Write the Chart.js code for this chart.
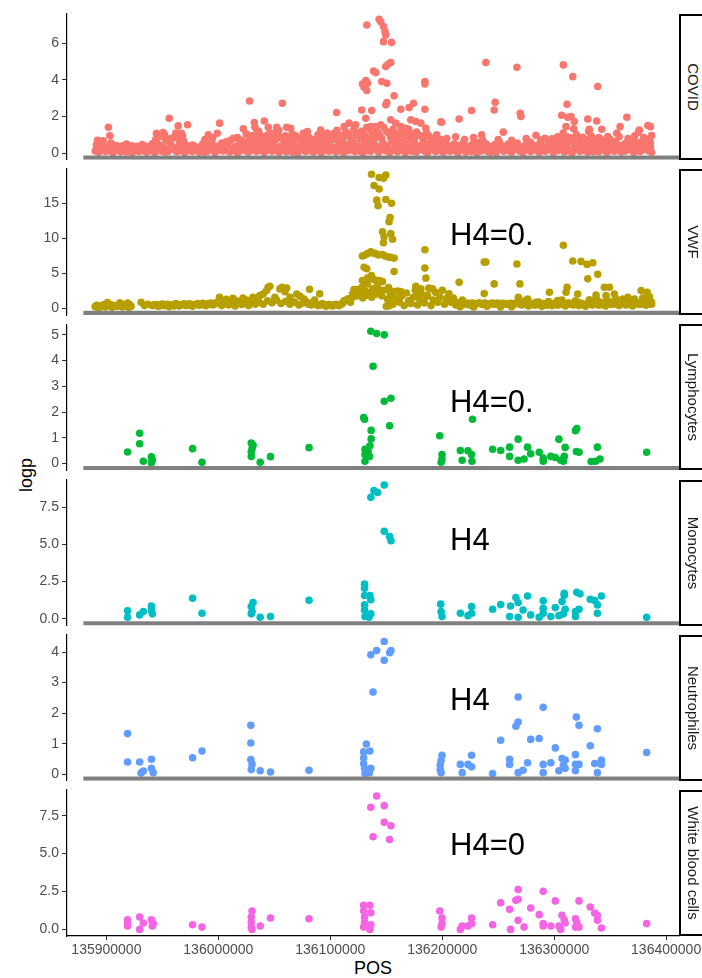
<!DOCTYPE html>
<html>
<head>
<meta charset="utf-8">
<script src="https://cdn.jsdelivr.net/npm/chart.js@4.4.0/dist/chart.umd.min.js"></script>
<style>
body { margin: 0; background: #fff; width: 702px; height: 978px; position: relative; overflow: hidden; font-family: "Liberation Sans", Arial, Helvetica, sans-serif; }
canvas { position: absolute; left: 0; z-index: 0; }
.strip { position: absolute; left: 679px; width: 40px; height: 146px; border: 2px solid #000; border-right: none; box-sizing: border-box; background: #fff; z-index: 2; }
.strip span { position: absolute; left: 12px; top: 50%; transform: translate(-50%, -50%) rotate(90deg); white-space: nowrap; font-size: 15px; color: #1a1a1a; }
.title { position: absolute; font-size: 18px; color: #000; white-space: nowrap; transform: translate(-50%, -50%); }
</style>
</head>
<body>
<div class="title" style="left:26px;top:475px;transform:translate(-50%,-50%) rotate(-90deg)">logp</div>
<div class="title" style="left:373px;top:968px">POS</div>
<script>
// positions in kb, values = logp
const covid = [
  [135890,0.12],[135893,0.05],[135896,0.22],[135899,0.1],[135903,0.28],[135906,0.04],[135909,0.17],[135913,0.08],[135916,0.25],[135919,0.13],
  [135923,0.03],[135926,0.2],[135929,0.09],[135933,0.27],[135936,0.06],[135940,0.15],[135943,0.02],[135946,0.23],[135950,0.11],[135953,0.06],
  [135956,0.19],[135960,0.3],[135963,0.08],[135966,0.14],[135970,0.04],[135973,0.21],[135977,0.1],[135980,0.26],[135983,0.05],[135987,0.16],
  [135990,0.09],[135993,0.24],[135997,0.03],[136000,0.18],[136004,0.12],[136007,0.29],[136010,0.07],[136014,0.2],[136017,0.02],[136020,0.14],
  [136024,0.25],[136027,0.06],[136031,0.17],[136034,0.1],[136037,0.28],[136041,0.04],[136044,0.19],[136048,0.11],[136051,0.23],[136054,0.05],
  [136058,0.15],[136061,0.08],[136065,0.27],[136068,0.13],[136071,0.03],[136075,0.2],[136078,0.09],[136082,0.24],[136085,0.06],[136088,0.16],
  [136092,0.02],[136095,0.22],[136099,0.11],[136102,0.3],[136105,0.07],[136109,0.18],[136112,0.04],[136116,0.13],[136119,0.26],[136122,0.09],
  [136126,0.2],[136129,0.03],[136133,0.15],[136136,0.1],[136139,0.27],[136143,0.05],[136146,0.19],[136150,0.12],[136153,0.02],[136156,0.23],
  [136160,0.08],[136163,0.17],[136167,0.04],[136170,0.28],[136173,0.11],[136177,0.06],[136180,0.21],[136184,0.14],[136187,0.03],[136190,0.25],
  [136194,0.09],[136197,0.16],[136201,0.05],[136204,0.22],[136207,0.1],[136211,0.18],[136214,0.03],[136218,0.27],[136221,0.07],[136224,0.14],
  [136228,0.2],[136231,0.04],[136235,0.12],[136238,0.24],[136241,0.08],[136245,0.17],[136248,0.02],[136252,0.29],[136255,0.1],[136258,0.15],
  [136262,0.05],[136265,0.22],[136269,0.13],[136272,0.03],[136275,0.19],[136279,0.09],[136282,0.26],[136286,0.06],[136289,0.16],[136292,0.11],
  [136296,0.21],[136299,0.04],[136303,0.14],[136306,0.28],[136309,0.07],[136313,0.18],[136316,0.02],[136320,0.23],[136323,0.1],[136326,0.15],
  [136330,0.05],[136333,0.25],[136337,0.12],[136340,0.08],[136343,0.2],[136347,0.03],[136350,0.17],[136354,0.11],[136357,0.27],[136360,0.06],
  [136364,0.14],[136367,0.22],[136371,0.04],[136374,0.19],[136377,0.09],[136381,0.24],[136384,0.13],[136387,0.05],
  [135891.5,0.3],[135895,0.15],[135898,0.4],[135901,0.2],[135904.5,0.08],[135908,0.33],[135911,0.18],[135914.5,0.4],[135918,0.07],[135921,0.32],
  [135924.5,0.16],[135928,0.38],[135931,0.21],[135934.5,0.1],[135938,0.35],[135941.5,0.28],[135945,0.12],[135948,0.4],[135951.5,0.3],[135955,0.09],
  [135958,0.42],[135961.5,0.16],[135965,0.33],[135968,0.22],[135971.5,0.4],[135975,0.13],[135978,0.36],[135981.5,0.2],[135985,0.3],[135988,0.06],
  [135991.5,0.37],[135995,0.19],[135998,0.31],[136002,0.4],[136005,0.15],[136008.5,0.38],[136012,0.24],[136015.5,0.12],[136019,0.4],[136022,0.3],
  [136025.5,0.1],[136029,0.36],[136032,0.22],[136035.5,0.42],[136039,0.14],[136042,0.34],[136046,0.26],[136049,0.4],[136053,0.16],[136056,0.33],
  [136060,0.21],[136063,0.41],[136066.5,0.07],[136070,0.3],[136073,0.18],[136076.5,0.4],[136080,0.28],[136083.5,0.12],[136087,0.38],[136090,0.2],
  [136093.5,0.33],[136097,0.15],[136100,0.4],[136103.5,0.22],[136107,0.35],[136110,0.12],[136113.5,0.3],[136117,0.42],[136120,0.17],[136124,0.36],
  [136127,0.1],[136131,0.3],[136134,0.4],[136137.5,0.2],[136141,0.38],[136144,0.13],[136148,0.3],[136151,0.42],[136154.5,0.16],[136158,0.35],
  [136161,0.22],[136165,0.4],[136168,0.14],[136172,0.33],[136175,0.41],[136178.5,0.2],[136182,0.36],[136185,0.09],[136189,0.3],[136192,0.4],
  [136195.5,0.24],[136199,0.12],[136202,0.36],[136206,0.28],[136209,0.4],[136212.5,0.12],[136216,0.33],[136219,0.2],[136223,0.38],[136226,0.1],
  [136229.5,0.3],[136233,0.4],[136236,0.18],[136240,0.35],[136243,0.06],[136246.5,0.3],[136250,0.4],[136253,0.2],[136257,0.34],[136260,0.12],
  [136263.5,0.38],[136267,0.28],[136270,0.1],[136274,0.34],[136277,0.4],[136280.5,0.18],[136284,0.32],[136287,0.07],[136291,0.36],[136294,0.25],
  [136297.5,0.4],[136301,0.16],[136304,0.33],[136308,0.2],[136311,0.4],[136314.5,0.1],[136318,0.35],[136321,0.28],[136325,0.4],[136328,0.17],
  [136331.5,0.33],[136335,0.08],[136338,0.38],[136342,0.28],[136345,0.4],[136348.5,0.14],[136352,0.35],[136355,0.2],[136359,0.4],[136362,0.11],
  [136365.5,0.36],[136369,0.25],[136372,0.4],[136376,0.15],[136379,0.32],[136382.5,0.2],[136386,0.36],
  [135891,0.45],[135895,0.62],[135900,0.38],[135904,0.55],[135909,0.42],[135914,0.35],[135918,0.5],[135923,0.4],[135927,0.33],[135932,0.47],
  [135936,0.36],[135941,0.52],[135945,0.6],[135949,0.41],[135953,0.72],[135957,0.55],[135961,0.85],[135965,0.48],[135969,0.66],[135973,0.38],
  [135977,0.45],[135981,0.34],[135986,0.5],[135990,0.42],[135994,0.62],[135998,0.38],[136003,0.55],[136007,0.46],[136011,0.7],[136015,0.35],
  [136019,0.58],[136023,0.44],[136027,0.65],[136031,0.5],[136035,0.78],[136039,0.4],[136043,0.6],[136047,0.48],[136051,0.72],[136055,0.36],
  [136059,0.55],[136063,0.45],[136067,0.63],[136071,0.38],[136075,0.52],[136079,0.68],[136083,0.42],[136087,0.57],[136091,0.35],[136095,0.62],
  [136099,0.47],[136103,0.75],[136107,0.4],[136111,0.58],[136115,0.45],[136119,0.7],[136123,0.52],[136127,0.38],[136131,0.65],[136135,0.48],
  [136139,0.6],[136143,0.35],[136147,0.55],[136151,0.42],[136155,0.68],[136159,0.5],[136163,0.37],[136167,0.62],[136171,0.45],[136175,0.58],
  [136179,0.4],[136183,0.66],[136187,0.5],[136191,0.36],[136195,0.55],[136199,0.45],[136203,0.62],[136207,0.38],[136211,0.52],[136215,0.42],
  [136219,0.6],[136223,0.35],[136227,0.48],[136231,0.58],[136235,0.4],[136239,0.52],[136243,0.36],[136247,0.47],[136251,0.6],[136255,0.38],
  [136259,0.5],[136263,0.42],[136267,0.56],[136271,0.35],[136275,0.48],[136279,0.6],[136283,0.4],[136287,0.52],[136291,0.37],[136295,0.55],
  [136299,0.44],[136303,0.62],[136307,0.38],[136311,0.5],[136315,0.66],[136319,0.42],[136323,0.55],[136327,0.36],[136331,0.6],[136335,0.47],
  [136339,0.7],[136343,0.4],[136347,0.56],[136351,0.45],[136355,0.64],[136359,0.38],[136363,0.52],[136367,0.6],[136371,0.42],[136375,0.55],
  [136379,0.68],[136383,0.4],[136386,0.58],
  [135892,0.7],[135897,0.68],[135944,0.75],[135947,0.9],[135952,1.0],[135955,0.75],[135958,0.82],[135962,1.1],[135965,0.8],[135968,0.95],
  [135988,0.75],[135995,0.85],
  [136017,0.85],[136021,0.7],[136025,1.05],[136028,0.8],[136030,0.95],[136033,1.0],[136036,1.2],[136038,0.72],[136040,0.9],[136043,0.95],
  [136046,1.1],[136048,0.75],[136050,0.88],[136052,1.0],[136054,1.25],[136057,0.8],[136060,0.95],[136063,0.75],[136066,1.05],[136069,0.95],
  [136072,0.8],[136075,0.75],[136078,0.9],[136081,0.85],[136084,0.75],[136086,0.7],[136089,1.0],
  [136091,0.7],[136093,0.85],[136095,0.95],[136097,1.1],[136099,0.75],[136101,0.9],[136104,1.05],[136106,1.25],[136108,0.7],[136110,0.95],
  [136112,0.9],[136114,1.15],[136116,1.05],[136118,0.85],[136120,0.75],[136121,1.3],[136123,1.1],[136125,1.0],[136127,0.8],[136128,1.2],
  [136130,1.05],[136132,0.9],[136134,0.75],[136135,1.35],[136137,1.2],[136138,1.05],[136140,0.85],[136141,1.25],[136143,1.1],[136144,0.95],
  [136146,0.8],[136148,1.4],[136150,1.2],[136152,1.1],[136154,0.85],[136156,1.3],[136157,1.1],[136159,0.9],[136161,0.75],[136163,1.2],
  [136164,1.05],[136166,1.0],[136168,0.8],[136170,1.3],[136171,1.1],[136173,0.85],[136175,0.75],[136177,1.15],[136179,1.0],[136181,0.95],
  [136183,0.8],[136186,1.1],[136188,0.95],[136190,0.8],[136193,0.7],[136195,1.0],[136199,0.75],
  [136204,0.8],[136212,0.9],[136220,0.75],[136228,0.85],[136236,0.7],[136250,0.75],[136262,0.7],[136275,0.8],[136288,0.72],[136298,0.78],
  [136301,0.75],[136303,0.9],[136306,0.7],[136308,1.1],[136311,0.8],[136314,0.85],[136317,0.72],[136320,1.0],[136323,0.8],[136326,0.8],
  [136329,0.7],[136333,0.95],[136336,0.75],[136340,0.85],[136343,0.7],
  [136350,0.75],[136358,0.9],[136366,0.8],[136372,0.95],[136380,0.85],[136385,0.78],
  [135901.8,1.42],[135903,0.95],[135956.1,1.91],[135944.7,1.09],[135950.7,1.13],[135964.1,1.49],[135972.5,1.55],[135967.1,1.09],[135967.1,0.85],
  [135991,1.0],[135999,1.09],[136001.1,1.64],[136022.3,1.33],[136027.9,2.85],[136032.1,1.67],[136032.7,1.42],[136041.1,1.76],[136044.6,1.42],
  [136052.1,1.42],[136057.2,2.73],[136061,1.42],[136064.6,1.36],[136070,0.82],[136075.9,1.09],[136037.1,1.0],[136049.1,1.09],[136055,0.91],
  [136028.8,0.64],[136013.3,0.82],[136007.3,0.64],
  [136143.6,7.31],[136145.1,7.18],[136132.6,7.0],[136147.5,6.91],[136148.9,6.64],[136149.6,6.45],[136147.5,6.09],[136154.7,6.05],
  [136154,4.95],[136151.6,4.85],[136149.6,4.73],[136138.6,4.49],[136140.6,4.4],[136131.7,3.96],[136128.7,3.78],[136133.2,3.82],[136130.2,3.6],
  [136132.6,3.42],[136146,3.91],[136150.5,3.82],[136184.5,3.91],[136184.5,3.78],[136157,3.13],[136150.5,2.76],[136149.6,2.64],[136163,2.4],
  [136170.4,2.49],[136174.3,2.73],[136184.5,2.4],[136128.1,2.36],[136137,2.33],[136105.7,2.22],[136131.7,1.91],[136132.6,1.42],[136198.8,1.71],
  [136091.4,1.27],[136112.3,1.45],[136116.7,1.64],[136122.7,1.55],[136154,1.82],[136158.5,1.64],[136171.9,1.82],[136176.4,1.73],[136180.9,1.64],
  [136185.4,1.36],[136145.1,1.55],[136140.6,1.45],[136136.2,1.45],[136079.5,1.18],[136103.3,1.09],[136163,1.45],[136167.5,1.36],
  [136239,4.95],[136266.7,4.69],[136308.2,4.82],[136316.6,4.18],[136338.9,3.64],[136247.3,2.78],[136246.4,2.36],[136226.2,2.33],[136215.1,1.87],
  [136199.4,1.69],[136269.7,2.18],[136270.3,2.0],[136311.5,2.67],[136306.7,2.07],[136312.1,1.96],[136315,2.0],[136318,1.73],[136310.6,1.45],
  [136317.5,1.33],[136330,1.87],[136338,1.76],[136331.4,1.31],[136330.9,1.18],[136342.5,1.31],[136364.9,1.96],[136358.9,1.45],[136376.1,1.27],
  [136375.3,1.15],[136383.7,1.51],[136386,1.45],[136387,0.96],[136254.5,1.15],[136235.2,1.0],[136283.7,0.98],[136291.8,0.82],[136310.6,0.91],
  [136325.5,0.87],[136355.9,1.09],[136371.1,0.82],[136347.9,0.91]
];

const vwf = [
  [135890,0.25],[135893,0.1],[135896,0.35],[135899,0.2],[135901,0.85],[135902,0.45],[135905,0.15],[135908,0.3],[135911,0.5],[135912,0.8],
  [135914,0.22],[135917,0.38],[135919,0.75],[135920,0.12],[135922,0.3],[135931,0.87],[135934,0.4],[135937,0.6],
  [135891.5,0.45],[135894.5,0.3],[135897.5,0.5],[135900.5,0.35],[135903.5,0.55],[135906.5,0.4],[135909.5,0.3],[135912.5,0.45],[135915.5,0.55],
  [135918.5,0.35],[135921,0.5],
  [135941,0.4],[135944,0.55],[135947,0.3],[135950,0.62],[135953,0.45],[135956,0.25],[135959,0.5],[135962,0.7],[135965,0.35],[135968,0.55],
  [135971,0.42],[135974,0.65],[135977,0.3],[135980,0.58],[135983,0.45],[135986,0.72],[135989,0.38],[135992,0.6],[135995,0.5],[135998,0.8],
  [135942.5,0.5],[135945.5,0.35],[135948.5,0.55],[135951.5,0.4],[135954.5,0.6],[135957.5,0.45],[135960.5,0.35],[135963.5,0.55],[135966.5,0.5],
  [135969.5,0.65],[135972.5,0.45],[135975.5,0.55],[135978.5,0.5],[135981.5,0.7],[135984.5,0.55],[135987.5,0.5],[135990.5,0.65],[135993.5,0.75],
  [135996.5,0.6],[135999.5,0.9],
  [136001,1.6],[136004,1.0],[136007,1.3],[136010,0.9],[136013,1.45],[136016,1.1],[136019,0.95],[136022,1.5],[136025,1.2],[136028,1.0],[136031,1.35],
  [136003,0.4],[136009,0.5],[136015,0.35],[136021,0.55],[136027,0.4],[136033,0.6],
  [136031,1.6],[136037,1.83],[136040,2.07],[136043,2.55],[136044.5,3.03],[136046,3.17],[136050.5,1.6],[136055,2.79],[136057,3.03],[136061,2.93],
  [136059.5,2.4],[136064,1.6],[136070,2.07],[136073,1.73],[136076.5,1.35],
  [136036,0.9],[136040,0.6],[136044,1.1],[136048,0.8],[136052,1.2],[136056,0.7],[136060,1.0],[136064,0.6],[136068,0.9],[136072,0.5],[136076,0.8],
  [136081.5,2.75],[136090.5,2.1],
  [136079,0.9],[136083,0.5],[136086,1.2],[136089,0.4],[136093,0.7],[136096,0.3],[136099,0.55],[136102,0.35],[136105,0.6],[136108,0.4],
  [136111,0.75],[136113,1.1],[136116,1.35],[136118,0.9],[136121,2.07],[136123,2.69],[136120,1.6],
  [136080.5,0.6],[136084.5,0.8],[136087.5,0.55],[136091,0.5],[136094.5,0.45],[136097.5,0.5],[136100.5,0.45],[136103.5,0.5],[136106.5,0.45],
  [136109.5,0.55],
  [136136.8,19.2],[136143.6,18.75],[136149.6,19.1],[136147.5,18.65],[136139.1,17.6],[136143.6,17.1],[136141.5,15.5],[136142.7,14.7],
  [136149.6,15.6],[136154.7,15.05],[136153.4,13.0],[136152.5,12.4],[136146.6,10.96],[136148,10.24],[136154,10.7],[136155.6,9.9],[136147.5,9.4],
  [136184.5,8.4],[136128.7,7.5],[136133.2,7.84],[136136.2,8.1],[136140.6,7.84],[136146.6,7.7],[136151.6,7.36],[136157,7.2],
  [136130.5,7.6],[136138,7.95],[136143,7.65],[136149,7.5],[136154,7.3],
  [136130.2,5.9],[136132.6,5.67],[136157,5.29],[136184.5,5.77],[136185.4,4.33],[136128.7,3.99],[136133.2,4.33],[136136.8,4.71],[136141.5,3.99],
  [136146.6,3.85],[136135,4.4],[136139,4.1],[136144,4.0],
  [136128,3.0],[136133,3.5],[136138,2.8],[136142,3.2],[136147,2.6],[136152,3.0],[136156,2.4],
  [136141.5,2.4],[136131.7,2.21],[136121.2,2.69],[136119.8,2.07],[136115.3,1.35],[136112.3,1.1],[136152.5,2.55],[136163,2.4],[136176.4,3.17],
  [136180.9,2.79],[136191.3,2.79],[136177.9,2.07],[136186.9,1.83],[136152.5,0.38],[136151.1,1.35],
  [136124,1.8],[136127,2.2],[136129,1.5],[136131,2.5],[136133,1.9],[136135,2.3],[136137,1.6],[136140,2.0],[136143,2.4],[136146,1.8],
  [136150,0.3],[136152,1.2],[136154,2.0],[136156,0.6],[136158,1.5],[136160,2.5],[136162,0.9],[136164,1.8],[136166,0.4],[136168,2.2],
  [136170,1.1],[136172,0.7],[136174,1.6],[136176,2.6],[136178,0.5],[136180,1.3],[136182,2.0],[136184,0.8],[136186,1.7],[136188,2.9],
  [136190,0.4],[136192,1.2],[136194,2.3],[136196,0.9],[136198,1.6],[136200,2.6],[136202,0.6],[136204,1.4],[136206,2.1],[136208,0.9],
  [136210,1.5],[136212,0.5],
  [136212,0.9],[136215,0.6],[136218,1.2],[136221,0.7],[136224,0.5],[136227,0.75],[136230,0.62],[136233,0.8],[136236,0.55],[136239,0.7],
  [136242,0.6],[136245,0.75],[136248,0.65],[136251,0.58],[136254,0.72],[136257,0.6],[136260,0.68],[136263,0.55],[136266,0.75],
  [136216,0.25],[136228,0.2],[136240,0.3],[136252,0.2],[136262,0.25],
  [136213.5,0.7],[136216.5,0.75],[136219.5,0.6],[136222.5,0.75],[136225.5,0.65],[136228.5,0.6],[136231.5,0.7],[136234.5,0.65],[136237.5,0.75],
  [136240.5,0.6],[136243.5,0.7],[136246.5,0.6],[136249.5,0.75],[136252.5,0.65],[136255.5,0.7],[136258.5,0.6],[136261.5,0.72],[136264.5,0.62],
  [136267.5,0.7],
  [136268,0.9],[136271,0.5],[136274,1.1],[136277,0.35],[136280,0.7],[136283,0.45],[136286,0.9],[136289,0.3],[136292,0.6],[136295,1.0],
  [136298,0.4],[136301,0.75],[136304,0.5],[136307,1.2],[136310,0.35],[136313,0.8],[136316,0.55],[136319,1.1],[136322,0.4],[136325,0.7],
  [136328,0.3],[136331,0.9],[136334,0.5],[136337,1.3],[136340,0.45],[136343,0.8],[136346,0.35],[136349,1.0],[136352,0.6],[136355,1.4],
  [136358,0.4],[136361,0.85],[136364,0.5],[136367,1.2],[136370,0.35],[136373,0.9],[136376,0.6],[136379,1.5],[136382,0.45],[136385,0.95],[136387,0.6],
  [136269.5,0.6],[136272.5,0.75],[136275.5,0.55],[136278.5,0.5],[136281.5,0.65],[136284.5,0.6],[136287.5,0.5],[136290.5,0.7],[136293.5,0.45],
  [136296.5,0.6],[136299.5,0.65],[136302.5,0.5],[136305.5,0.7],[136308.5,0.6],[136311.5,0.55],[136314.5,0.65],[136317.5,0.5],[136320.5,0.6],
  [136323.5,0.75],[136326.5,0.5],[136329.5,0.6],[136332.5,0.7],[136335.5,0.55],[136338.5,0.6],[136341.5,0.75],[136344.5,0.5],[136347.5,0.65],
  [136350.5,0.6],[136353.5,0.8],[136356.5,0.55],[136359.5,0.65],[136362.5,0.7],[136365.5,0.6],[136368.5,0.75],[136371.5,0.55],[136374.5,0.7],
  [136377.5,0.6],[136380.5,0.8],[136383.5,0.6],[136386,0.7],
  [136308.2,9.04],[136316.6,6.78],[136324,6.73],[136329.4,6.3],[136334.5,6.54],[136237.5,6.63],[136239,6.63],[136266.7,6.35],[136330,4.23],
  [136338.9,4.9],[136215.1,3.75],[136246.4,3.51],[136269.4,3.51],[136237.5,2.12],[136268,1.59],[136295.7,2.31],[136311.5,3.03],[136310.6,2.31],
  [136321,2.07],[136331.4,1.25],[136337.4,1.92],[136344.8,3.03],[136349.3,3.03],[136346.3,1.83],[136353.7,2.07],[136347.2,1.11],[136377.7,2.55],
  [136383,2.31],[136385.1,1.68],[136387,0.87],[136380.4,1.35],[136361.3,1.35],[136365.8,1.59],[136371.7,1.35],[136276.3,1.35],[136283.7,0.87],
  [136303.1,1.11],[136321,0.87],[136338.9,1.11]
];

const lymphocytes = [
  [135918.9,0.45],[135929.7,1.18],[135929.7,0.77],[135933.0,0.09],[135940.2,0.26],[135941.0,0.14],[135940.2,0.03],[135977.0,0.58],[135985.4,0.05],
  [136029.4,0.46],[136029.4,0.8],[136031.0,0.71],[136029.4,0.28],[136030.1,0.58],[136037.4,0.05],[136046.6,0.27],[136081.0,0.62],[136129.8,1.79],
  [136130.6,1.72],[136136.2,5.14],[136141.4,5.05],[136148.2,5.0],[136138.2,3.78],[136148.2,2.42],[136154.2,2.54],[136153.0,1.47],[136136.5,1.29],
  [136136.5,0.96],[136135.4,0.69],[136131.0,0.56],[136131.0,0.35],[136131.0,0.09],[136135.0,0.28],[136133.7,0.47],[136197.8,1.08],[136199.8,0.35],
  [136199.8,0.18],[136199.0,0.05],[136216.2,0.51],[136217.8,0.13],[136223.0,0.5],[136226.2,0.35],[136226.6,0.09],[136227.0,1.72],[136245.0,0.56],
  [136252.2,0.51],[136260.2,0.64],[136260.2,0.28],[136267.8,0.95],[136267.8,0.13],[136273.1,0.18],[136276.2,0.64],[136279.0,0.38],[136286.6,0.44],
  [136290.2,0.09],[136290.2,0.22],[136297.0,0.28],[136301.0,0.24],[136304.2,0.95],[136305.8,0.13],[136309.0,0.28],[136308.2,0.09],[136309.8,0.63],
  [136319.0,1.28],[136320.2,1.36],[136319.8,0.47],[136322.2,0.44],[136333.0,0.08],[136337.0,0.09],[136340.9,0.18],[136338.6,0.64],[136382.6,0.44]
];

const monocytes = [
  [135918.9,0.54],[135918.9,0.11],[135929.7,0.27],[135933.0,0.49],[135940.2,0.87],[135941.0,0.34],[135940.2,0.6],[135977.0,1.39],[135985.4,0.38],
  [136030.1,0.49],[136031.0,1.1],[136029.4,0.83],[136029.4,0.34],[136037.4,0.11],[136046.6,0.16],[136081.0,1.25],[136136.2,8.15],[136139.0,8.6],
  [136142.2,8.48],[136148.2,8.98],[136148.2,5.87],[136153.0,5.53],[136154.2,5.24],[136130.6,2.33],[136130.6,2.06],[136130.6,1.57],[136135.4,1.57],
  [136136.2,1.28],[136130.6,0.94],[136130.6,0.6],[136131.0,0.16],[136136.2,0.34],[136134.6,0.11],[136198.6,0.99],[136199.0,0.49],[136199.8,0.16],
  [136216.2,0.38],[136223.0,0.22],[136226.2,0.83],[136226.2,0.38],[136245.0,0.65],[136252.2,0.96],[136260.2,0.16],[136261.0,0.87],[136265.8,1.43],
  [136267.8,1.1],[136267.8,0.11],[136272.2,0.6],[136276.2,1.54],[136279.0,0.27],[136286.6,0.11],[136290.2,1.21],[136290.2,0.72],[136290.2,0.38],
  [136297.0,0.16],[136301.0,0.76],[136304.2,0.22],[136307.0,1.16],[136309.0,1.59],[136309.0,1.72],[136309.8,0.65],[136308.2,0.34],[136319.0,0.49],
  [136319.0,0.16],[136320.2,1.79],[136323.0,1.68],[136322.2,0.65],[136332.2,1.32],[136336.2,1.23],[136338.6,0.94],[136342.2,1.54],[136338.6,0.38],
  [136382.6,0.11]
];

const neutrophiles = [
  [135918.9,1.33],[135918.9,0.4],[135929.7,0.4],[135930.9,0.04],[135933.0,0.1],[135940.2,0.49],[135940.2,0.19],[135941.8,0.05],[135977.0,0.54],
  [135985.4,0.76],[136029.0,1.6],[136029.0,1.02],[136029.0,0.48],[136030.1,0.32],[136029.4,0.15],[136037.4,0.11],[136046.6,0.07],[136081.0,0.13],
  [136132.2,0.99],[136129.8,0.73],[136135.4,0.76],[136129.8,0.53],[136129.8,0.35],[136130.6,0.19],[136131.0,0.02],[136136.2,0.19],[136135.0,0.05],
  [136136.2,3.91],[136141.4,4.05],[136148.2,4.35],[136148.2,3.73],[136153.0,3.98],[136154.2,4.05],[136138.2,2.69],[136199.8,0.62],[136199.0,0.45],
  [136198.2,0.3],[136198.2,0.15],[136199.0,0.05],[136216.2,0.32],[136217.8,0.05],[136223.0,0.32],[136226.2,0.62],[136226.2,0.24],[136245.0,0.02],
  [136252.2,1.11],[136260.2,0.49],[136260.2,0.32],[136265.8,1.57],[136267.8,1.71],[136267.8,2.53],[136267.8,0.05],[136272.2,0.13],[136276.2,0.37],
  [136279.0,1.14],[136286.6,1.17],[136290.2,2.19],[136290.2,0.32],[136290.2,0.05],[136297.0,0.37],[136301.0,0.86],[136304.2,0.11],[136307.0,0.51],
  [136308.2,0.29],[136309.8,0.19],[136309.8,0.46],[136319.0,0.64],[136319.0,0.32],[136319.8,1.87],[136322.2,1.6],[136319.0,0.11],[136322.2,0.32],
  [136332.2,0.93],[136336.2,0.35],[136338.6,1.49],[136338.6,0.05],[136342.2,0.46],[136342.2,0.32],[136382.6,0.71]
];

const whiteBloodCells = [
  [135918.9,0.64],[135918.9,0.22],[135918.9,0.42],[135929.7,0.82],[135929.7,0.0],[135933.0,0.42],[135940.2,0.64],[135941.0,0.22],[135941.8,0.38],
  [135977.0,0.31],[135985.4,0.15],[136030.1,1.21],[136029.4,0.82],[136029.4,0.49],[136029.4,0.15],[136030.1,0.0],[136037.4,0.22],[136046.6,0.75],
  [136081.0,0.7],[136129.8,1.59],[136135.4,1.59],[136136.2,1.1],[136129.8,1.21],[136130.6,0.82],[136130.6,0.49],[136129.8,0.15],[136136.2,0.31],
  [136135.4,0.0],[136136.2,8.05],[136141.4,8.8],[136148.2,8.16],[136148.2,7.06],[136154.2,6.84],[136138.2,6.11],[136153.0,5.93],[136197.8,1.21],
  [136199.8,0.75],[136199.8,0.38],[136199.0,0.15],[136216.2,0.0],[136217.8,0.22],[136223.0,0.22],[136226.2,0.75],[136226.2,0.38],[136245.0,0.31],
  [136252.2,1.76],[136260.2,1.32],[136261.0,0.0],[136265.8,1.92],[136267.8,2.63],[136267.8,1.99],[136267.8,0.6],[136273.1,0.15],[136279.0,1.41],
  [136286.6,0.97],[136290.2,2.51],[136290.2,0.22],[136290.2,0.38],[136297.0,0.22],[136301.0,1.88],[136305.8,0.0],[136307.0,0.93],[136309.0,0.64],
  [136309.8,0.42],[136304.2,0.22],[136319.0,0.7],[136319.0,0.15],[136320.2,0.49],[136322.2,1.88],[136322.2,0.15],[136332.2,1.48],[136336.2,1.08],
  [136338.6,0.93],[136338.6,0.6],[136342.2,0.09],[136382.6,0.38]
];

const traits = ['COVID', 'VWF', 'Lymphocytes', 'Monocytes', 'Neutrophiles', 'White blood cells'];
const series = [covid, vwf, lymphocytes, monocytes, neutrophiles, whiteBloodCells];
const colors = ['#F8766D', '#B79F00', '#00BA38', '#00BFC4', '#619CFF', '#F564E3'];
const yMins = [-0.36, -0.95, -0.26, -0.445, -0.2175, -0.44];
const yMaxs = [7.61, 19.95, 5.41, 9.345, 4.5675, 9.19];
const yTicks = [[0, 2, 4, 6], [0, 5, 10, 15], [0, 1, 2, 3, 4, 5], [0, 2.5, 5, 7.5], [0, 1, 2, 3, 4], [0, 2.5, 5, 7.5]];
const yTickLabels = [['0', '2', '4', '6'], ['0', '5', '10', '15'], ['0', '1', '2', '3', '4', '5'],
  ['0.0', '2.5', '5.0', '7.5'], ['0', '1', '2', '3', '4'], ['0.0', '2.5', '5.0', '7.5']];
const xTicks = [135900000, 136000000, 136100000, 136200000, 136300000, 136400000];
const xTickLabels = ['135900000', '136000000', '136100000', '136200000', '136300000', '136400000'];
const grayLineY = [-0.24, -0.635, -0.175, -0.297, -0.145, null];
const grayLineX = [135879.4, 136430];
const annotText = ['', 'H4=0.', 'H4=0.', 'H4', 'H4', 'H4=0'];
const annotX = 136207;
const annotY = [null, 9.07, 2.02, 4.62, 2.1, 4.91];

const FONT = '"Liberation Sans", Arial, Helvetica, sans-serif';
const xMin = 135864800, xMax = 136411500;
const panelH = 146;

const annotPlugin = {
  id: 'annot',
  afterDatasetsDraw(chart, args, opts) {
    if (!opts.text) return;
    const ctx = chart.ctx;
    ctx.save();
    ctx.font = '31px ' + FONT;
    ctx.fillStyle = '#000';
    ctx.textAlign = 'left';
    ctx.textBaseline = 'alphabetic';
    ctx.fillText(opts.text, chart.scales.x.getPixelForValue(annotX * 1000), chart.scales.y.getPixelForValue(opts.y));
    ctx.restore();
  }
};

traits.forEach((name, i) => {
  const last = i === traits.length - 1;
  const top = 13.8 + 155.25 * i;
  const cTop = Math.floor(top) - 12;
  const padTop = top - cTop;
  const xH = 978 - (top + panelH);
  const h = last ? 978 - cTop : Math.ceil(padTop + panelH + 12);

  const cv = document.createElement('canvas');
  cv.width = 760; cv.height = h;
  cv.style.top = cTop + 'px';
  cv.style.width = '760px'; cv.style.height = h + 'px';
  document.body.appendChild(cv);

  const strip = document.createElement('div');
  strip.className = 'strip';
  strip.style.top = top + 'px';
  strip.innerHTML = '<span>' + name + '</span>';
  document.body.appendChild(strip);

  const datasets = [{
    data: series[i].map(p => ({ x: p[0] * 1000, y: p[1] })),
    backgroundColor: colors[i], pointRadius: 3.8, pointBorderWidth: 0, borderWidth: 0, order: 1
  }];
  if (grayLineY[i] !== null) {
    datasets.push({
      type: 'line',
      data: grayLineX.map(x => ({ x: x * 1000, y: grayLineY[i] })),
      borderColor: '#808080', borderWidth: 4.4, pointRadius: 0, order: 0
    });
  }

  const xScale = {
    type: 'linear', min: xMin, max: xMax, display: last,
    afterBuildTicks: s => { s.ticks = xTicks.map(v => ({ value: v })); },
    grid: { drawOnChartArea: false, drawTicks: true, tickLength: 4, tickColor: '#333', tickWidth: 1 },
    border: { display: true, color: '#000', width: 1.2 },
    ticks: { font: { size: 14, family: FONT }, color: '#4d4d4d', padding: 2, maxRotation: 0, autoSkip: false,
      callback: (v, idx) => xTickLabels[idx] }
  };
  if (last) xScale.afterFit = s => { s.height = xH; };

  new Chart(cv, {
    type: 'scatter',
    data: { datasets },
    plugins: [annotPlugin],
    options: {
      animation: false, responsive: false, devicePixelRatio: 1, events: [],
      layout: { padding: { top: padTop, right: 760 - 679, left: 0, bottom: last ? 0 : h - padTop - panelH } },
      plugins: { legend: { display: false }, tooltip: { enabled: false }, annot: { text: annotText[i], y: annotY[i] } },
      scales: {
        x: xScale,
        y: {
          type: 'linear', min: yMins[i], max: yMaxs[i],
          afterBuildTicks: s => { s.ticks = yTicks[i].map(v => ({ value: v })); },
          afterFit: s => { s.width = 67; },
          grid: { drawOnChartArea: false, drawTicks: true, tickLength: 5, tickColor: '#333', tickWidth: 1 },
          border: { display: true, color: '#000', width: 1.2 },
          ticks: { font: { size: 14, family: FONT }, color: '#4d4d4d', padding: 3,
            callback: (v, idx) => yTickLabels[i][idx] }
        }
      }
    }
  });
});
</script>
</body>
</html>
